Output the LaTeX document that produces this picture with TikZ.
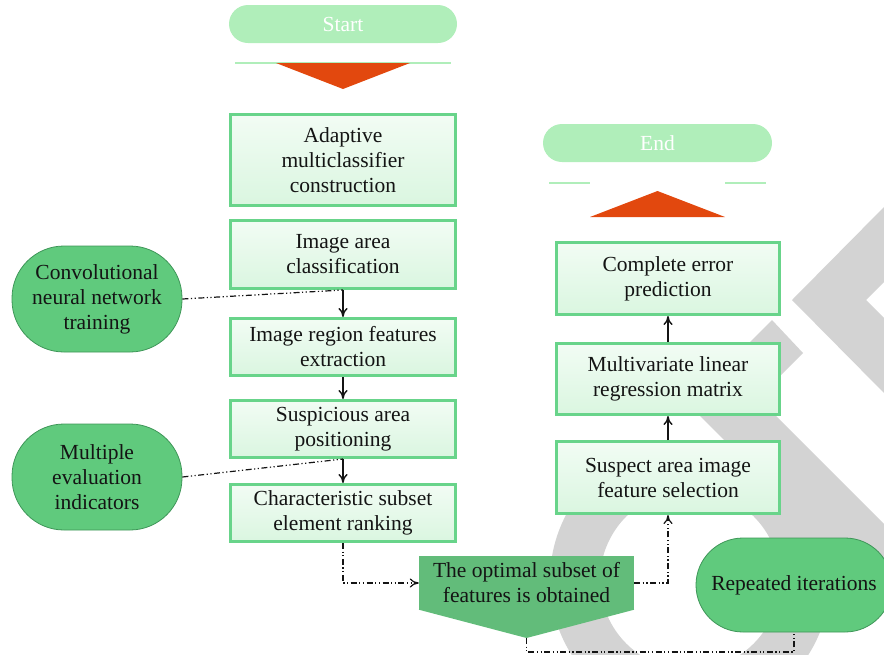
\documentclass[tikz,border=0pt]{standalone}
\usepackage{fontspec}
\setmainfont{Liberation Serif}
\usetikzlibrary{positioning, arrows, arrows.meta}
\definecolor{pillgreen}{RGB}{176,238,186}
\definecolor{tipred}{RGB}{226,72,14}
\definecolor{boxline}{RGB}{104,212,138}
\definecolor{boxtop}{RGB}{242,252,244}
\definecolor{boxbot}{RGB}{218,246,224}
\definecolor{ovalfill}{RGB}{96,202,125}
\definecolor{ovalline}{RGB}{62,150,88}
\definecolor{optfill}{RGB}{98,188,122}
\definecolor{wmgray}{RGB}{211,211,211}
\definecolor{ink}{RGB}{20,20,20}
\tikzset{x=1pt, y=-1pt, % one unit is one pixel, y runs down
every node/.style={font=\fontsize{21.5}{25}\selectfont, text=ink, align=center},
pill/.style={ % start and end
rectangle, rounded corners=19pt, fill=pillgreen, text=white,
minimum width=228pt, minimum height=38pt},
stepbox/.style={ % the process boxes
rectangle, draw=boxline, line width=3pt, top color=boxtop, bottom color=boxbot,
minimum width=225pt, inner sep=2pt},
oval/.style={ % side inputs
rectangle, rounded corners=52pt, draw=ovalline, line width=0.8pt, fill=ovalfill,
minimum width=170pt, minimum height=106pt, inner sep=1pt},
>={To[length=9pt, width=9pt]},
flow/.style={draw=ink, line width=1.4pt, ->},
link/.style={draw=ink, line width=1.2pt,
dash pattern=on 6pt off 2.5pt on 1.2pt off 2.5pt on 1.2pt off 2.5pt}}

\begin{document}
\begin{tikzpicture}
    \useasboundingbox (0,0) rectangle (884,654);
    % watermark in the back
    \fill[wmgray] (884,207) -- (792,300) -- (884,393) -- (884,318) -- (866,300) -- (884,282) -- cycle;
    \fill[wmgray] (772,320) -- (803,353) -- (758,398) -- (884,524) -- (884,599) -- (688,404) -- cycle;
    \fill[wmgray, even odd rule] (690,580) circle (140) circle (90);

    % left column
    \node[pill] (start) at (343,24) {Start};
    \draw[pillgreen, line width=1.5pt] (235,63) -- (451,63);
    \fill[tipred] (276,63) -- (410,63) -- (343,89) -- cycle;
    \node[stepbox, minimum height=91pt] (adapt) at (343,160) {Adaptive\\multiclassifier\\construction};
    \node[stepbox, minimum height=68pt] (classif) at (343,254.5) {Image area\\classification};
    \node[stepbox, minimum height=57pt] (extract) at (343,347) {Image region features\\extraction};
    \node[stepbox, minimum height=57pt] (position) at (343,429) {Suspicious area\\positioning};
    \node[stepbox, minimum height=57pt] (ranking) at (343,513) {Characteristic subset\\element ranking};
    \node[oval] (cnn) at (97,299) {Convolutional\\neural network\\training};
    \node[oval] (multi) at (97,477) {Multiple\\evaluation\\indicators};

    % right column
    \node[pill, minimum width=229pt] (finish) at (657.5,143) {End};
    \draw[pillgreen, line width=1.5pt] (549,183) -- (590,183) (725,183) -- (766,183);
    \fill[tipred] (590,217) -- (725,217) -- (657.5,191) -- cycle;
    \node[stepbox, minimum width=223pt, minimum height=72pt] (predict) at (668,278.5) {Complete error\\prediction};
    \node[stepbox, minimum width=223pt, minimum height=71pt] (regress) at (668,379) {Multivariate linear\\regression matrix};
    \node[stepbox, minimum width=223pt, minimum height=72pt] (select) at (668,477.5) {Suspect area image\\feature selection};

    % bottom
    \node[fill=optfill, minimum width=215pt, minimum height=54pt, inner sep=1pt] (optim) at (526.5,583) {The optimal subset of\\features is obtained};
    \coordinate (optip) at (526.5,638);
    \fill[optfill] ([yshift=0.5pt]optim.south west) -- ([yshift=0.5pt]optim.south east) -- (optip) -- cycle;
    \node[oval, minimum width=196pt, minimum height=94pt, rounded corners=47pt] (iterate) at (794,585) {Repeated iterations};

    \draw[flow] (classif) -- (extract);
    \draw[flow] (extract) -- (position);
    \draw[flow] (position) -- (ranking);
    \draw[flow] (select) -- (regress);
    \draw[flow] (regress) -- (predict);
    \draw[link] (cnn.east) -- (classif.south);
    \draw[link] (multi.east) -- (position.south);
    \draw[link, ->] (ranking.south) |- (optim.west);
    \draw[link, ->] (optim.east) -| (select.south);
    \draw[link] (optip) -- ++(0,14) -| (iterate.south);
\end{tikzpicture}
\end{document}
